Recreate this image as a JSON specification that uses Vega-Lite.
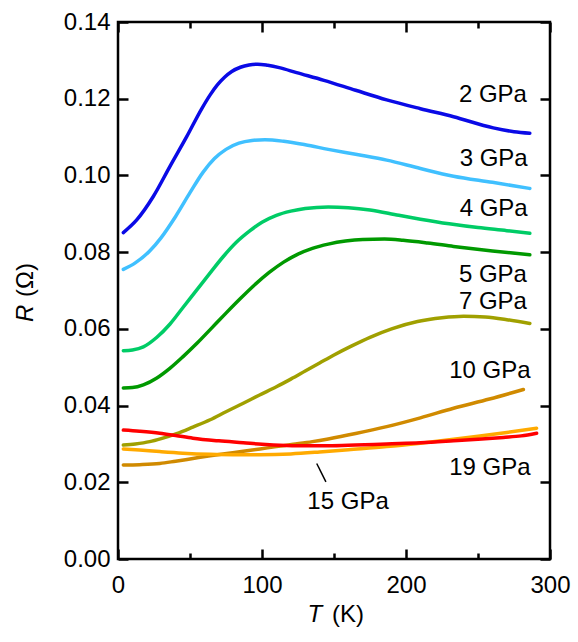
{
  "$schema": "https://vega.github.io/schema/vega-lite/v6.json",
  "width": 432,
  "height": 537,
  "autosize": {"type": "none"},
  "padding": {"left": 118, "top": 22, "right": 28, "bottom": 83},
  "background": "white",
  "config": {
    "view": {"stroke": "black", "strokeWidth": 2.5},
    "axis": {"labelFont": "Liberation Sans", "labelFontSize": 24, "labelColor": "black", "tickColor": "black", "tickWidth": 2.5, "domain": false, "grid": false, "title": null, "labelFlush": false, "labelOverlap": false, "labelBound": false},
    "text": {"font": "Liberation Sans", "fontSize": 24, "color": "black"}
  },
  "datasets": {
    "curves": [
      {"p": "2 GPa", "T": 3.7, "R": 0.0851}, {"p": "2 GPa", "T": 13, "R": 0.0884}, {"p": "2 GPa", "T": 24.5, "R": 0.0945}, {"p": "2 GPa", "T": 36, "R": 0.1023}, {"p": "2 GPa", "T": 47.7, "R": 0.1101}, {"p": "2 GPa", "T": 58, "R": 0.1173}, {"p": "2 GPa", "T": 64, "R": 0.1210}, {"p": "2 GPa", "T": 69, "R": 0.1236}, {"p": "2 GPa", "T": 74, "R": 0.1256}, {"p": "2 GPa", "T": 79, "R": 0.1271}, {"p": "2 GPa", "T": 85, "R": 0.1282}, {"p": "2 GPa", "T": 91, "R": 0.1288}, {"p": "2 GPa", "T": 97, "R": 0.1290}, {"p": "2 GPa", "T": 104, "R": 0.1287}, {"p": "2 GPa", "T": 112, "R": 0.1281}, {"p": "2 GPa", "T": 124, "R": 0.1268}, {"p": "2 GPa", "T": 143, "R": 0.1248}, {"p": "2 GPa", "T": 165, "R": 0.1222}, {"p": "2 GPa", "T": 186.6, "R": 0.1197}, {"p": "2 GPa", "T": 210, "R": 0.1174}, {"p": "2 GPa", "T": 233, "R": 0.1153}, {"p": "2 GPa", "T": 260.6, "R": 0.1124}, {"p": "2 GPa", "T": 275, "R": 0.1114}, {"p": "2 GPa", "T": 286, "R": 0.111},
      {"p": "3 GPa", "T": 3.7, "R": 0.0755}, {"p": "3 GPa", "T": 12, "R": 0.0772}, {"p": "3 GPa", "T": 22, "R": 0.0803}, {"p": "3 GPa", "T": 30, "R": 0.0838}, {"p": "3 GPa", "T": 40, "R": 0.0893}, {"p": "3 GPa", "T": 50, "R": 0.0955}, {"p": "3 GPa", "T": 59, "R": 0.1008}, {"p": "3 GPa", "T": 67, "R": 0.1044}, {"p": "3 GPa", "T": 75, "R": 0.1068}, {"p": "3 GPa", "T": 84, "R": 0.1084}, {"p": "3 GPa", "T": 93, "R": 0.1091}, {"p": "3 GPa", "T": 102, "R": 0.1093}, {"p": "3 GPa", "T": 115, "R": 0.1089}, {"p": "3 GPa", "T": 130, "R": 0.108}, {"p": "3 GPa", "T": 146, "R": 0.1068}, {"p": "3 GPa", "T": 165, "R": 0.1055}, {"p": "3 GPa", "T": 186.6, "R": 0.104}, {"p": "3 GPa", "T": 210, "R": 0.1018}, {"p": "3 GPa", "T": 233, "R": 0.0998}, {"p": "3 GPa", "T": 260, "R": 0.0982}, {"p": "3 GPa", "T": 286, "R": 0.0966},
      {"p": "4 GPa", "T": 3.7, "R": 0.0543}, {"p": "4 GPa", "T": 10, "R": 0.0545}, {"p": "4 GPa", "T": 17.6, "R": 0.0553}, {"p": "4 GPa", "T": 27, "R": 0.0578}, {"p": "4 GPa", "T": 36, "R": 0.0612}, {"p": "4 GPa", "T": 45, "R": 0.0655}, {"p": "4 GPa", "T": 54.6, "R": 0.0701}, {"p": "4 GPa", "T": 64, "R": 0.0746}, {"p": "4 GPa", "T": 73, "R": 0.0788}, {"p": "4 GPa", "T": 82, "R": 0.0825}, {"p": "4 GPa", "T": 91.7, "R": 0.0856}, {"p": "4 GPa", "T": 100, "R": 0.0878}, {"p": "4 GPa", "T": 110, "R": 0.0896}, {"p": "4 GPa", "T": 120, "R": 0.0907}, {"p": "4 GPa", "T": 130, "R": 0.0914}, {"p": "4 GPa", "T": 146, "R": 0.0918}, {"p": "4 GPa", "T": 160, "R": 0.0916}, {"p": "4 GPa", "T": 175, "R": 0.091}, {"p": "4 GPa", "T": 195, "R": 0.0896}, {"p": "4 GPa", "T": 210, "R": 0.0886}, {"p": "4 GPa", "T": 230, "R": 0.0874}, {"p": "4 GPa", "T": 250, "R": 0.0864}, {"p": "4 GPa", "T": 270, "R": 0.0856}, {"p": "4 GPa", "T": 286, "R": 0.0849},
      {"p": "5 GPa", "T": 3.7, "R": 0.0446}, {"p": "5 GPa", "T": 10, "R": 0.0447}, {"p": "5 GPa", "T": 17.6, "R": 0.0454}, {"p": "5 GPa", "T": 27, "R": 0.0472}, {"p": "5 GPa", "T": 36, "R": 0.0497}, {"p": "5 GPa", "T": 45, "R": 0.0527}, {"p": "5 GPa", "T": 55, "R": 0.0563}, {"p": "5 GPa", "T": 65, "R": 0.0602}, {"p": "5 GPa", "T": 75, "R": 0.0641}, {"p": "5 GPa", "T": 85, "R": 0.0679}, {"p": "5 GPa", "T": 95, "R": 0.0715}, {"p": "5 GPa", "T": 105, "R": 0.0747}, {"p": "5 GPa", "T": 115, "R": 0.0774}, {"p": "5 GPa", "T": 125, "R": 0.0795}, {"p": "5 GPa", "T": 135, "R": 0.081}, {"p": "5 GPa", "T": 146, "R": 0.0821}, {"p": "5 GPa", "T": 158, "R": 0.0829}, {"p": "5 GPa", "T": 170, "R": 0.0833}, {"p": "5 GPa", "T": 185, "R": 0.0834}, {"p": "5 GPa", "T": 198, "R": 0.0831}, {"p": "5 GPa", "T": 215, "R": 0.0824}, {"p": "5 GPa", "T": 233, "R": 0.0815}, {"p": "5 GPa", "T": 260, "R": 0.0803}, {"p": "5 GPa", "T": 286, "R": 0.0793},
      {"p": "7 GPa", "T": 3.7, "R": 0.0297}, {"p": "7 GPa", "T": 12, "R": 0.03}, {"p": "7 GPa", "T": 22, "R": 0.0306}, {"p": "7 GPa", "T": 30, "R": 0.0314}, {"p": "7 GPa", "T": 40.7, "R": 0.0327}, {"p": "7 GPa", "T": 52, "R": 0.0344}, {"p": "7 GPa", "T": 64, "R": 0.0363}, {"p": "7 GPa", "T": 75, "R": 0.0384}, {"p": "7 GPa", "T": 87, "R": 0.0406}, {"p": "7 GPa", "T": 98, "R": 0.0427}, {"p": "7 GPa", "T": 110, "R": 0.0449}, {"p": "7 GPa", "T": 120, "R": 0.0469}, {"p": "7 GPa", "T": 130, "R": 0.049}, {"p": "7 GPa", "T": 140, "R": 0.0511}, {"p": "7 GPa", "T": 150, "R": 0.0532}, {"p": "7 GPa", "T": 162, "R": 0.0555}, {"p": "7 GPa", "T": 175, "R": 0.0578}, {"p": "7 GPa", "T": 190, "R": 0.06}, {"p": "7 GPa", "T": 208, "R": 0.0619}, {"p": "7 GPa", "T": 225, "R": 0.0629}, {"p": "7 GPa", "T": 240, "R": 0.0633}, {"p": "7 GPa", "T": 255, "R": 0.0631}, {"p": "7 GPa", "T": 270, "R": 0.0624}, {"p": "7 GPa", "T": 286, "R": 0.0614},
      {"p": "10 GPa", "T": 3.7, "R": 0.0245}, {"p": "10 GPa", "T": 15, "R": 0.0246}, {"p": "10 GPa", "T": 29, "R": 0.0249}, {"p": "10 GPa", "T": 40, "R": 0.0255}, {"p": "10 GPa", "T": 52, "R": 0.0262}, {"p": "10 GPa", "T": 64, "R": 0.0269}, {"p": "10 GPa", "T": 75.5, "R": 0.0275}, {"p": "10 GPa", "T": 87, "R": 0.0281}, {"p": "10 GPa", "T": 98.6, "R": 0.0287}, {"p": "10 GPa", "T": 110, "R": 0.0293}, {"p": "10 GPa", "T": 121.7, "R": 0.0299}, {"p": "10 GPa", "T": 135, "R": 0.0306}, {"p": "10 GPa", "T": 146, "R": 0.0313}, {"p": "10 GPa", "T": 165, "R": 0.0327}, {"p": "10 GPa", "T": 186.6, "R": 0.0345}, {"p": "10 GPa", "T": 210, "R": 0.0368}, {"p": "10 GPa", "T": 233, "R": 0.0393}, {"p": "10 GPa", "T": 258, "R": 0.0417}, {"p": "10 GPa", "T": 281.5, "R": 0.0442},
      {"p": "15 GPa", "T": 3.7, "R": 0.0287}, {"p": "15 GPa", "T": 15, "R": 0.0284}, {"p": "15 GPa", "T": 29, "R": 0.028}, {"p": "15 GPa", "T": 45, "R": 0.0276}, {"p": "15 GPa", "T": 64, "R": 0.0273}, {"p": "15 GPa", "T": 80, "R": 0.0272}, {"p": "15 GPa", "T": 98.6, "R": 0.0272}, {"p": "15 GPa", "T": 120, "R": 0.0274}, {"p": "15 GPa", "T": 140, "R": 0.0279}, {"p": "15 GPa", "T": 160, "R": 0.0285}, {"p": "15 GPa", "T": 186.6, "R": 0.0293}, {"p": "15 GPa", "T": 210, "R": 0.0302}, {"p": "15 GPa", "T": 233, "R": 0.0312}, {"p": "15 GPa", "T": 250, "R": 0.032}, {"p": "15 GPa", "T": 270, "R": 0.033}, {"p": "15 GPa", "T": 290.7, "R": 0.0341},
      {"p": "19 GPa", "T": 3.7, "R": 0.0336}, {"p": "19 GPa", "T": 15, "R": 0.0333}, {"p": "19 GPa", "T": 29, "R": 0.0328}, {"p": "19 GPa", "T": 40, "R": 0.0322}, {"p": "19 GPa", "T": 52, "R": 0.0315}, {"p": "19 GPa", "T": 70, "R": 0.0308}, {"p": "19 GPa", "T": 87, "R": 0.0303}, {"p": "19 GPa", "T": 100, "R": 0.0299}, {"p": "19 GPa", "T": 117, "R": 0.0296}, {"p": "19 GPa", "T": 130, "R": 0.0295}, {"p": "19 GPa", "T": 146, "R": 0.0295}, {"p": "19 GPa", "T": 165, "R": 0.0297}, {"p": "19 GPa", "T": 186.6, "R": 0.03}, {"p": "19 GPa", "T": 210, "R": 0.0303}, {"p": "19 GPa", "T": 233, "R": 0.0308}, {"p": "19 GPa", "T": 250, "R": 0.0312}, {"p": "19 GPa", "T": 267.6, "R": 0.0317}, {"p": "19 GPa", "T": 280, "R": 0.0321}, {"p": "19 GPa", "T": 290.7, "R": 0.0328}
    ],
    "labels": [
      {"text": "2 GPa", "T": 284, "R": 0.121},
      {"text": "3 GPa", "T": 284.5, "R": 0.1043},
      {"text": "4 GPa", "T": 284.5, "R": 0.0912},
      {"text": "5 GPa", "T": 284, "R": 0.074},
      {"text": "7 GPa", "T": 284, "R": 0.0669},
      {"text": "10 GPa", "T": 286.5, "R": 0.0491},
      {"text": "19 GPa", "T": 286.5, "R": 0.0237}
    ],
    "leftlabels": [
      {"text": "15 GPa", "T": 131.5, "R": 0.0149}
    ],
    "leader": [
      {"T": 138.0, "R": 0.0249, "T2": 144.4, "R2": 0.0201}
    ]
  },
  "layer": [
    {
      "data": {"name": "curves"},
      "mark": {"type": "line", "strokeWidth": 3.5, "interpolate": "monotone", "strokeCap": "round"},
      "encoding": {
        "x": {"field": "T", "type": "quantitative", "scale": {"domain": [0, 300], "nice": false, "zero": false},
              "axis": {"orient": "bottom", "values": [0, 100, 200, 300], "tickSize": -10, "labelPadding": 24}},
        "y": {"field": "R", "type": "quantitative", "scale": {"domain": [0, 0.14], "nice": false, "zero": false},
              "axis": {"orient": "left", "values": [0, 0.02, 0.04, 0.06, 0.08, 0.1, 0.12, 0.14], "format": ".2f", "tickSize": -10, "labelPadding": 18}},
        "color": {"field": "p", "type": "nominal", "legend": null,
                  "scale": {"domain": ["2 GPa", "3 GPa", "4 GPa", "5 GPa", "7 GPa", "10 GPa", "15 GPa", "19 GPa"],
                            "range": ["#0A0AE6", "#40C0FF", "#00CC66", "#009900", "#A0A000", "#D08A00", "#FFAA00", "#FF0000"]}}
      }
    },
    {
      "data": {"name": "labels"},
      "mark": {"type": "text", "align": "right", "baseline": "middle"},
      "encoding": {
        "x": {"field": "T", "type": "quantitative", "scale": {"domain": [0, 300]},
              "axis": {"orient": "top", "values": [0, 100, 200, 300], "tickSize": -10, "labels": false}},
        "y": {"field": "R", "type": "quantitative", "scale": {"domain": [0, 0.14]},
              "axis": {"orient": "right", "values": [0, 0.02, 0.04, 0.06, 0.08, 0.1, 0.12, 0.14], "tickSize": -10, "labels": false}},
        "text": {"field": "text"}
      }
    },
    {
      "data": {"name": "leftlabels"},
      "mark": {"type": "text", "align": "left", "baseline": "middle"},
      "encoding": {
        "x": {"field": "T", "type": "quantitative", "scale": {"domain": [0, 300]}, "axis": null},
        "y": {"field": "R", "type": "quantitative", "scale": {"domain": [0, 0.14]}, "axis": null},
        "text": {"field": "text"}
      }
    },
    {
      "data": {"name": "leader"},
      "mark": {"type": "rule", "strokeWidth": 1.5, "color": "black"},
      "encoding": {
        "x": {"field": "T", "type": "quantitative", "scale": {"domain": [0, 300]},
              "axis": {"orient": "bottom", "values": [50, 150, 250], "tickSize": -6, "labels": false}},
        "y": {"field": "R", "type": "quantitative", "scale": {"domain": [0, 0.14]}, "axis": null},
        "x2": {"field": "T2"},
        "y2": {"field": "R2"}
      }
    },
    {
      "data": {"values": [{}]},
      "mark": {"type": "text", "text": "T", "fontStyle": "italic", "align": "right", "baseline": "alphabetic"},
      "encoding": {
        "x": {"datum": 141.7, "type": "quantitative", "scale": {"domain": [0, 300]},
              "axis": {"orient": "top", "values": [50, 150, 250], "tickSize": -6, "labels": false}},
        "y": {"datum": -0.0164, "type": "quantitative", "scale": {"domain": [0, 0.14]}, "axis": null}
      }
    },
    {
      "data": {"values": [{}]},
      "mark": {"type": "text", "text": "(K)", "align": "left", "baseline": "alphabetic"},
      "encoding": {
        "x": {"datum": 148.6, "type": "quantitative", "scale": {"domain": [0, 300]}, "axis": null},
        "y": {"datum": -0.0164, "type": "quantitative", "scale": {"domain": [0, 0.14]}, "axis": null}
      }
    },
    {
      "data": {"values": [{}]},
      "mark": {"type": "text", "text": "R", "fontStyle": "italic", "align": "left", "baseline": "alphabetic", "angle": 270},
      "encoding": {
        "x": {"datum": -59, "type": "quantitative", "scale": {"domain": [0, 300]}, "axis": null},
        "y": {"datum": 0.0618, "type": "quantitative", "scale": {"domain": [0, 0.14]}, "axis": null}
      }
    },
    {
      "data": {"values": [{}]},
      "mark": {"type": "text", "text": "(Ω)", "align": "left", "baseline": "alphabetic", "angle": 270},
      "encoding": {
        "x": {"datum": -59, "type": "quantitative", "scale": {"domain": [0, 300]}, "axis": null},
        "y": {"datum": 0.0683, "type": "quantitative", "scale": {"domain": [0, 0.14]}, "axis": null}
      }
    }
  ],
  "resolve": {"axis": {"x": "independent", "y": "independent"}}
}
